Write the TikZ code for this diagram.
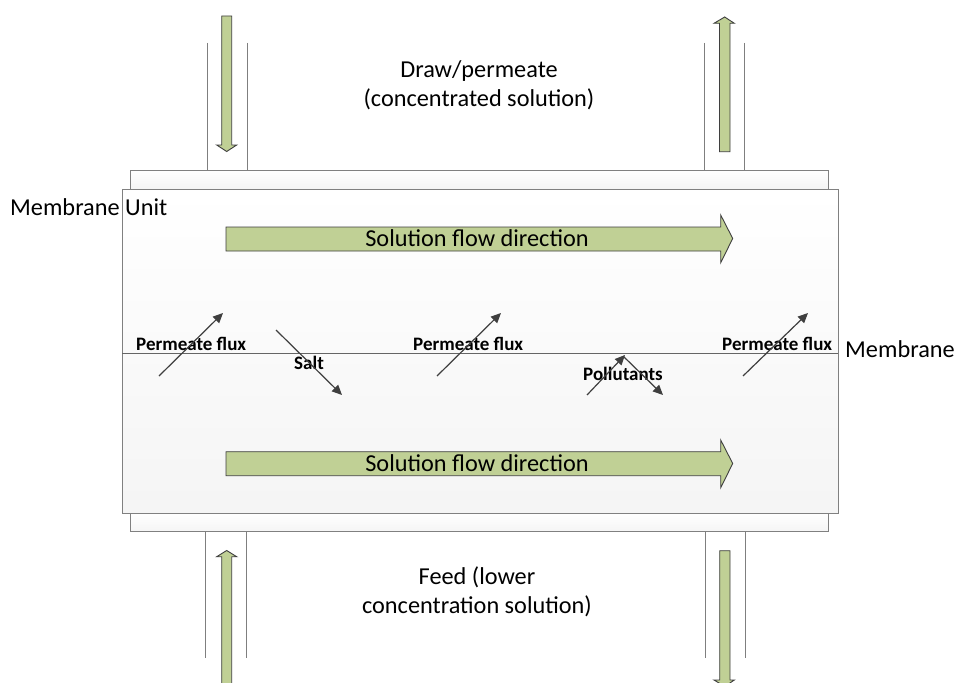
\documentclass[tikz,border=0pt]{standalone}
\usepackage{fontspec}
\setmainfont{Carlito}
\usetikzlibrary{arrows.meta}
\definecolor{olivefill}{HTML}{C0D095}
\definecolor{arrowedge}{HTML}{3F3F3F}
\definecolor{pipegray}{HTML}{7F7F7F}
\definecolor{boxgray}{HTML}{808080}
\tikzset{
  blockarrow/.style={fill=olivefill, draw=arrowedge, line width=0.9pt, line join=miter},
  pipeline/.style={draw=pipegray, line width=1pt},
  unitbox/.style={draw=boxgray, line width=1pt, top color=white, bottom color=black!4},
  fluxarrow/.style={draw=arrowedge, line width=1.2pt, -{Triangle[length=10pt,width=9pt]}},
  biglabel/.style={font=\fontsize{24.3}{29}\selectfont, inner sep=0pt},
  smalllabel/.style={font=\fontsize{19}{22}\selectfont\bfseries, inner sep=0pt},
}
\begin{document}
\begin{tikzpicture}[x=1pt,y=-1pt]
\useasboundingbox (0,0) rectangle (957,682);
\fill[white] (0,0) rectangle (957,682);

% strips and membrane unit box
\path[unitbox] (130,170) rectangle (828,189);
\path[unitbox] (130,513) rectangle (828,531.7);
\path[unitbox] (122,189) rectangle (838,513);

% pipes
\draw[pipeline] (207.7,43) -- (207.7,170);
\draw[pipeline] (247.3,43) -- (247.3,170);
\draw[pipeline] (704,43) -- (704,170);
\draw[pipeline] (744,43) -- (744,170);
\draw[pipeline] (205.7,531.7) -- (205.7,658);
\draw[pipeline] (246.3,531.7) -- (246.3,658);
\draw[pipeline] (705.3,531.7) -- (705.3,658);
\draw[pipeline] (745,531.7) -- (745,658);

% vertical block arrows
\path[blockarrow] (221.7,16) -- (231.7,16) -- (231.7,145) -- (236.7,145) -- (226.7,151.5) -- (216.7,145) -- (221.7,145) -- cycle;
\path[blockarrow] (719.5,151.7) -- (730,151.7) -- (730,23.3) -- (734.3,23.3) -- (724.7,17) -- (714,23.3) -- (719.5,23.3) -- cycle;
\path[blockarrow] (221.7,690) -- (231.7,690) -- (231.7,556.7) -- (236.7,556.7) -- (226.7,550.5) -- (216.7,556.7) -- (221.7,556.7) -- cycle;
\path[blockarrow] (719.7,550.7) -- (730,550.7) -- (730,680) -- (734.3,680) -- (724.8,686.5) -- (714,680) -- (719.7,680) -- cycle;

% horizontal block arrows
\path[blockarrow] (226,227) -- (720.7,227) -- (720.7,215) -- (732.7,238.5) -- (720.7,262.7) -- (720.7,251) -- (226,251) -- cycle;
\node[biglabel] (flowtop) at (477,238.5) {Solution flow direction};
\path[blockarrow] (226,451.7) -- (720.7,451.7) -- (720.7,440) -- (732.7,463.5) -- (720.7,487.7) -- (720.7,475.7) -- (226,475.7) -- cycle;
\node[biglabel] (flowbot) at (477,463.5) {Solution flow direction};

% membrane line
\coordinate (memL) at (122,353);
\coordinate (memR) at (838,353);
\draw[draw=arrowedge!80, line width=1pt] (memL) -- (memR);

% labels
\node[biglabel, anchor=base west] (unit) at (10,215) {Membrane Unit};
\node[biglabel, anchor=base west] (membrane) at (845,357) {Membrane};
\node[biglabel, align=center] (draw) at (479,85) {Draw/permeate\\(concentrated solution)};
\node[biglabel, align=center] (feed) at (477,592) {Feed (lower\\concentration solution)};

\node[smalllabel, anchor=base west] (pf1) at (136,350) {Permeate flux};
\node[smalllabel, anchor=base west] (pf2) at (413,350) {Permeate flux};
\node[smalllabel, anchor=base west] (pf3) at (722,350) {Permeate flux};
\node[smalllabel, anchor=base west] (salt) at (294,369) {Salt};
\node[smalllabel, anchor=base west] (poll) at (583,380.7) {Pollutants};

% flux arrows
\coordinate (a1s) at (159,376);  \coordinate (a1e) at (223,313);
\coordinate (a2s) at (437,376);  \coordinate (a2e) at (501,313);
\coordinate (a3s) at (743,376);  \coordinate (a3e) at (808,313);
\coordinate (ss) at (276,330);   \coordinate (se) at (342,395);
\coordinate (p1s) at (587,395);  \coordinate (p1e) at (625,355);
\coordinate (p2s) at (623,356);  \coordinate (p2e) at (663,395);
\draw[fluxarrow] (a1s) -- (a1e);
\draw[fluxarrow] (a2s) -- (a2e);
\draw[fluxarrow] (a3s) -- (a3e);
\draw[fluxarrow] (ss) -- (se);
\draw[fluxarrow] (p1s) -- (p1e);
\draw[fluxarrow] (p2s) -- (p2e);
\end{tikzpicture}
\end{document}
